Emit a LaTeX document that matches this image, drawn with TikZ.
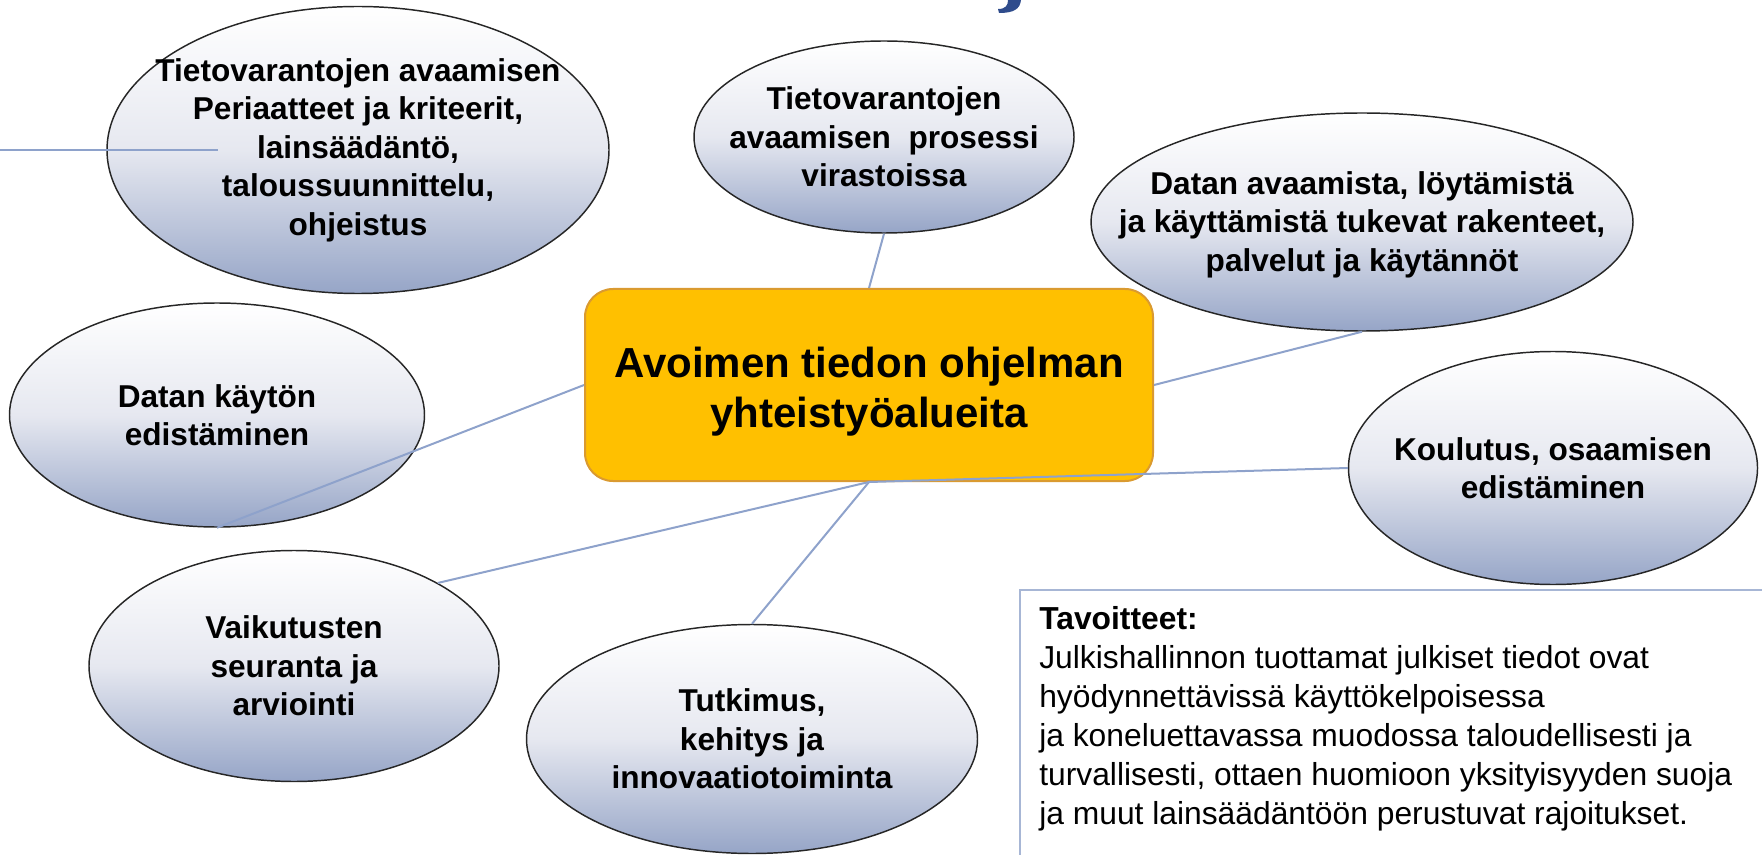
\documentclass[tikz,border=0pt]{standalone}
\usepackage{fontspec}
\setmainfont{Liberation Sans}
\usetikzlibrary{shapes.geometric, positioning}
\definecolor{bubbleblue}{HTML}{96A5C7}
\definecolor{bubblemid}{HTML}{E6E8F0}
\definecolor{linkblue}{HTML}{8EA2CB}
\definecolor{hubfill}{HTML}{FFC000}
\definecolor{hubedge}{HTML}{DA9A30}
\definecolor{titleblue}{HTML}{2F4C8C}
\definecolor{goaledge}{HTML}{A7B6D5}

\begin{document}
\begin{tikzpicture}[x=0.75pt, y=-0.75pt,
	bubble/.style={ellipse, draw=black!85, line width=1.1pt, top color=white, bottom color=bubbleblue, middle color=bubblemid, inner sep=0pt},
	bubtext/.style={align=center, inner sep=0pt, font=\fontsize{23.7}{28.9}\selectfont\bfseries},
	link/.style={draw=linkblue, line width=1.5pt},
	hub/.style={rectangle, rounded corners=21pt, fill=hubfill, draw=hubedge, line width=1.5pt, minimum width=426pt, minimum height=144pt},
	hubtext/.style={align=center, inner sep=0pt, font=\fontsize{31.5}{36.8}\selectfont\bfseries},
	goaltext/.style={align=left, inner sep=0pt, font=\fontsize{23.85}{29.25}\selectfont}]
\useasboundingbox (0,0) rectangle (1762,855);
% cut-off letter of the title above
\fill[titleblue] (1008,0) -- (1021,0) .. controls (1020,9) and (1014,13) .. (999,13) -- (998,9) .. controls (1006,9) and (1008,5) .. (1008,0) -- cycle;
\node[hub] (hub) at (869,385) {};
\node[hubtext] (hub-t) at ([yshift=-5pt]hub.center) {Avoimen tiedon ohjelman\\yhteistyöalueita};
\node[bubble, minimum width=376.5pt, minimum height=215.25pt] (princ) at (358,150) {};
\node[bubtext] (princ-t) at (princ) {Tietovarantojen avaamisen\\Periaatteet ja kriteerit,\\lainsäädäntö,\\taloussuunnittelu,\\ohjeistus};
\node[bubble, minimum width=285pt, minimum height=144pt] (procs) at (884,137) {};
\node[bubtext] (procs-t) at (procs) {Tietovarantojen\\avaamisen~ prosessi\\virastoissa};
\node[bubble, minimum width=406.5pt, minimum height=163.5pt] (infra) at (1362,222) {};
\node[bubtext] (infra-t) at ([yshift=-2pt]infra.center) {Datan avaamista, löytämistä\\ja käyttämistä tukevat rakenteet,\\palvelut ja käytännöt};
\node[bubble, minimum width=311.25pt, minimum height=168pt] (usage) at (217,415) {};
\node[bubtext] (usage-t) at (usage) {Datan käytön\\edistäminen};
\node[bubble, minimum width=306.75pt, minimum height=174.75pt] (skills) at (1553,468) {};
\node[bubtext] (skills-t) at (skills) {Koulutus, osaamisen\\edistäminen};
\node[bubble, minimum width=307.5pt, minimum height=173.25pt] (impact) at (294,666) {};
\node[bubtext] (impact-t) at (impact) {Vaikutusten\\seuranta ja\\arviointi};
\node[bubble, minimum width=338.25pt, minimum height=171.75pt] (research) at (752,739) {};
\node[bubtext] (research-t) at (research) {Tutkimus,\\kehitys ja\\innovaatiotoiminta};
% connectors
\coordinate (stubL) at (0,150);
\coordinate (stubR) at (218,150);
\draw[link] (stubL) -- (stubR);
\draw[link] (procs.south) -- (hub.north);
\draw[link] (infra.south) -- (hub.east);
\draw[link] (usage.south) -- (hub.west);
\draw[link] (hub.south) -- (impact.30);
\draw[link] (hub.south) -- (research.north);
\draw[link] (hub.south) -- (skills.west);
% goals box
\coordinate (goalBL) at (1020,855);
\coordinate (goalTL) at (1020,590);
\coordinate (goalTR) at (1762,590);
\draw[goaledge, line width=1.5pt] (goalBL) -- (goalTL) -- (goalTR);
\node[goaltext, anchor=north west] (goal) at (1039,606) {\textbf{Tavoitteet:}\\Julkishallinnon tuottamat julkiset tiedot ovat\\hyödynnettävissä käyttökelpoisessa\\ja koneluettavassa muodossa taloudellisesti ja\\turvallisesti, ottaen huomioon yksityisyyden suoja\\ja muut lainsäädäntöön perustuvat rajoitukset.};
\end{tikzpicture}
\end{document}
